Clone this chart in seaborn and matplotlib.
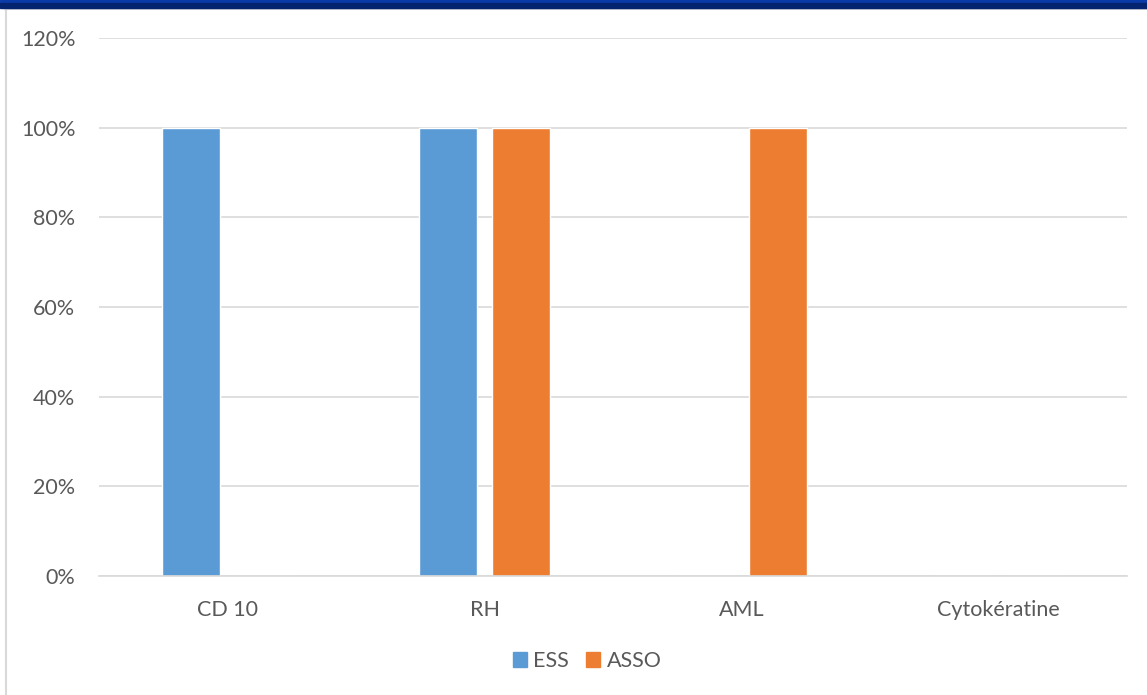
import matplotlib
matplotlib.use("Agg")
import matplotlib.pyplot as plt
from matplotlib.patches import Rectangle
from matplotlib.lines import Line2D
from matplotlib.ticker import FuncFormatter
import seaborn as sns
import pandas as pd

categories = ["CD 10", "RH", "AML", "Cytokératine"]
series_names = ["ESS", "ASSO"]
ess_values = [100, 100, 0, 0]
asso_values = [0, 100, 100, 0]
y_ticks = [0, 20, 40, 60, 80, 100, 120]

colors = {"ESS": "#5B9BD5", "ASSO": "#ED7D31"}
text_color = "#595959"

df = pd.DataFrame({
    "category": categories * 2,
    "series": ["ESS"] * len(categories) + ["ASSO"] * len(categories),
    "value": ess_values + asso_values,
})

sns.set_theme(style="white")
plt.rcParams["font.family"] = ["Lato", "DejaVu Sans"]

W, H = 1147, 695
fig = plt.figure(figsize=(W / 100, H / 100), dpi=100)
fig.patch.set_facecolor("white")

ax = fig.add_axes([99 / W, 1 - 576 / H, (1127 - 99) / W, (576 - 38) / H])
sns.barplot(data=df, x="category", y="value", hue="series", order=categories,
            hue_order=series_names, palette=colors, width=0.568, gap=0.21,
            saturation=1, ax=ax, legend=False)

ax.set_ylim(0, 120)
ax.set_xlim(-0.5, len(categories) - 0.5)
ax.set_yticks(y_ticks)
ax.yaxis.set_major_formatter(FuncFormatter(lambda v, p: f"{int(v)}%"))
ax.grid(axis="y", color="#D9D9D9", linewidth=1.2)
ax.set_axisbelow(True)
for s in ["top", "right", "left"]:
    ax.spines[s].set_visible(False)
ax.spines["bottom"].set_color("#D9D9D9")
ax.spines["bottom"].set_linewidth(1.2)
ax.set_xlabel("")
ax.set_ylabel("")
ax.tick_params(axis="both", length=0, labelsize=15.5, labelcolor=text_color)
ax.tick_params(axis="y", pad=17)
ax.tick_params(axis="x", pad=17)

# Legend below the plot
handles = [Rectangle((0, 0), 1, 1, color=colors[n]) for n in series_names]
fig.legend(handles, series_names, loc="center", bbox_to_anchor=(587 / W, 1 - 661 / H),
           ncol=2, frameon=False, fontsize=15.5, labelcolor=text_color,
           handlelength=0.65, handleheight=0.65, handletextpad=0.3, columnspacing=0.8)

# Frame decorations: blue header band, light borders
fig.patches.append(Rectangle((0, 1 - 3 / H), 1, 3 / H, transform=fig.transFigure,
                             color="#0B3BA8", zorder=5))
fig.patches.append(Rectangle((0, 1 - 8 / H), 1, 5 / H, transform=fig.transFigure,
                             color="#042470", zorder=5))
fig.lines.append(Line2D([5 / W, 1], [1 - 9 / H, 1 - 9 / H], transform=fig.transFigure,
                        color="#D9D9D9", linewidth=1.5))
fig.lines.append(Line2D([5.5 / W, 5.5 / W], [0, 1 - 9 / H], transform=fig.transFigure,
                        color="#D9D9D9", linewidth=1.5))

fig.savefig("out.png", dpi=100)
